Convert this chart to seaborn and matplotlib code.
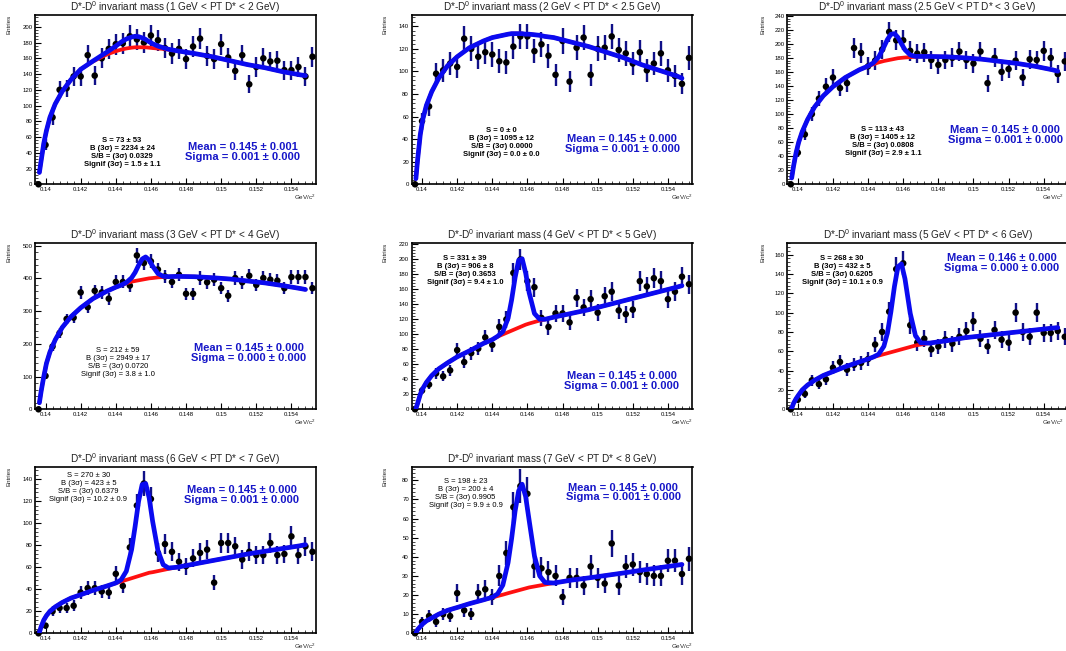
import numpy as np
import matplotlib
matplotlib.use("Agg")
import matplotlib.pyplot as plt
import seaborn as sns
from matplotlib.ticker import MultipleLocator, AutoMinorLocator, FuncFormatter

sns.set_theme(style="white")
plt.rcParams['font.family'] = ['Liberation Sans', 'DejaVu Sans']
plt.rcParams['mathtext.fontset'] = 'custom'
plt.rcParams['mathtext.rm'] = 'Liberation Sans'
plt.rcParams['mathtext.it'] = 'Liberation Sans:italic'
plt.rcParams['mathtext.bf'] = 'Liberation Sans:bold'

# ---------------- data ----------------
pt_ranges = ["1 GeV < PT D* < 2 GeV", "2 GeV < PT D* < 2.5 GeV", "2.5 GeV < PT D* < 3 GeV",
             "3 GeV < PT D* < 4 GeV", "4 GeV < PT D* < 5 GeV", "5 GeV < PT D* < 6 GeV",
             "6 GeV < PT D* < 7 GeV", "7 GeV < PT D* < 8 GeV"]

bin_lo, bin_hi, n_bins = 0.1394, 0.1554, 40
mass_edges = np.linspace(bin_lo, bin_hi, n_bins + 1)
mass_bins = 0.5 * (mass_edges[:-1] + mass_edges[1:])

counts_1 = [0, 50, 85, 120, 122, 137, 137, 164, 138, 160, 172, 178, 179, 188, 184, 180, 189, 183, 173, 166,
            172, 159, 175, 185, 163, 159, 178, 161, 144, 164, 127, 149, 160, 156, 157, 145, 145, 149, 137, 162]
counts_2 = [0, 56, 69, 98, 101, 107, 104, 129, 120, 113, 117, 115, 109, 108, 122, 131, 131, 118, 124, 114,
            97, 127, 91, 121, 130, 97, 120, 121, 131, 119, 116, 107, 117, 101, 107, 116, 101, 96, 89, 112]
counts_3 = [0, 45, 71, 100, 122, 139, 152, 137, 144, 194, 187, 168, 176, 192, 217, 205, 205, 190, 186, 188,
            177, 170, 177, 180, 189, 177, 172, 189, 144, 180, 160, 164, 176, 152, 178, 177, 190, 180, 157, 175]
counts_4 = [0, 102, 192, 233, 276, 280, 357, 312, 362, 357, 338, 389, 389, 378, 470, 447, 452, 427, 406, 389,
            411, 353, 353, 401, 388, 396, 370, 347, 401, 388, 408, 380, 401, 396, 393, 370, 404, 404, 404, 370]
counts_5 = [0, 25, 33, 48, 44, 52, 79, 63, 75, 81, 96, 86, 110, 120, 182, 200, 171, 163, 122, 110,
            128, 128, 116, 149, 136, 147, 129, 151, 157, 132, 127, 133, 171, 164, 175, 171, 147, 157, 177, 167]
counts_6 = [0, 10, 16, 30, 26, 31, 43, 49, 41, 46, 48, 52, 67, 80, 101, 145, 151, 87, 69, 73,
            62, 65, 72, 68, 75, 81, 91, 73, 65, 82, 72, 69, 100, 80, 75, 100, 79, 79, 81, 75]
counts_7 = [0, 7, 20, 23, 23, 25, 37, 41, 41, 38, 37, 54, 43, 78, 116, 136, 122, 73, 81, 74,
            65, 61, 68, 73, 76, 46, 82, 82, 79, 67, 74, 71, 71, 82, 71, 72, 88, 71, 79, 74]
counts_8 = [0, 6, 9, 6, 10, 9, 21, 12, 10, 21, 23, 19, 30, 42, 66, 77, 73, 35, 34, 32,
            30, 19, 29, 29, 25, 35, 29, 26, 47, 25, 35, 36, 32, 31, 30, 30, 38, 38, 31, 39]

curve_x = [0.13965, 0.13975, 0.13990, 0.14005, 0.14025, 0.14055, 0.14095, 0.14145, 0.14200, 0.14270,
           0.14350, 0.14400, 0.14430, 0.14460, 0.14490, 0.14510, 0.14530, 0.14550, 0.14570, 0.14590,
           0.14610, 0.14640, 0.14670, 0.14700, 0.14750, 0.14850, 0.14950, 0.15050, 0.15150, 0.15250,
           0.15350, 0.15450, 0.15480]

bkg_1 = [15, 30, 52, 68, 85, 102, 118, 133, 146, 156, 165, 169, 171, 172.5, 173.5, 174, 174, 174, 174, 173.5,
         173, 172.5, 172, 171, 169.5, 166, 162, 157, 152, 148, 143, 139, 138]
bkg_2 = [5, 22, 44, 58, 70, 82, 94, 105, 113, 121, 127, 130, 131, 132, 133, 133.5, 133.5, 133.5, 133.5, 133,
         133, 132.5, 132, 131, 130, 126, 122, 117, 112, 106, 101, 96, 94]
bkg_3 = [9, 25, 45, 60, 75, 92, 110, 126, 139, 152, 163, 168, 171, 173.5, 175.5, 176.5, 177.5, 178.5, 179.5, 180,
         180.5, 181, 181.5, 182, 182, 181.5, 180, 178, 175, 172, 168, 163, 161]
bkg_4 = [20, 55, 100, 140, 175, 212, 250, 283, 310, 338, 361, 373, 379, 385, 390, 392, 394, 396, 398, 400,
         401, 403, 404, 405, 406, 405, 402, 398, 392, 386, 378, 369, 366]
bkg_5 = [1, 8, 20, 28, 36, 45, 54, 62, 70, 78, 88, 93, 97, 100, 103, 105, 107, 109, 111, 113,
         114.5, 116.5, 118.5, 120, 123, 128, 133, 139, 145, 151, 157, 163, 165]
bkg_6 = [1, 6, 11, 15, 20, 25, 30, 35, 39, 44, 49, 52, 54, 55.5, 57, 58, 59, 60, 61, 62,
         63, 64.5, 66, 67, 68.5, 71, 74, 76, 78, 80, 82, 84, 84.5]
bkg_7 = [1, 6, 12, 16, 20, 24, 28, 32, 35, 39, 43, 45.5, 47, 48.5, 50, 51, 52, 53, 54, 55,
         55.5, 56.5, 57.5, 58.5, 60, 63, 66, 69, 72, 74.5, 77, 79.5, 80.5]
bkg_8 = [0, 2, 3.5, 5, 6.5, 8, 10, 12, 13.5, 15.5, 17.5, 18.7, 19.5, 20.2, 21, 21.5, 22, 22.5, 23, 23.5,
         24, 24.5, 25, 25.5, 26.3, 27.8, 29, 30.3, 31.6, 33, 34.3, 35.6, 36]

sig_1 = [0, 0, 0, 0, 0, 0, 0, 0, 0, 0.5, 3, 6.5, 9.5, 12, 13.5, 14, 13.5, 12, 10, 7.5,
         5.5, 3, 1.5, 0.5, 0, 0, 0, 0, 0, 0, 0, 0, 0]
sig_2 = [0] * 33
sig_3 = [0, 0, 0, 0, 0, 0, 0, 0, 0, 0, 0, 0.3, 1.9, 7.6, 20, 29.6, 36, 36, 29.6, 20,
         11, 3.1, 0.6, 0, 0, 0, 0, 0, 0, 0, 0, 0, 0]
sig_4 = [0, 0, 0, 0, 0, 0, 0, 0, 0, 0, 0, 0, 0.2, 2.2, 11.7, 26, 46, 63, 67.5, 56,
         36, 11.7, 2.2, 0.2, 0, 0, 0, 0, 0, 0, 0, 0, 0]
sig_5 = [0, 0, 0, 0, 0, 0, 0, 0, 0, 0, 0, 0, 0.4, 3.5, 18.6, 41, 69, 90, 90, 69,
         41, 11.4, 1.7, 0.15, 0, 0, 0, 0, 0, 0, 0, 0, 0]
sig_6 = [0, 0, 0, 0, 0, 0, 0, 0, 0, 0, 0, 0, 0.1, 1.4, 8.2, 20.8, 42, 67, 86.4, 88.4,
         72, 34.7, 10, 1.7, 0, 0, 0, 0, 0, 0, 0, 0, 0]
sig_7 = [0, 0, 0, 0, 0, 0, 0, 0, 0, 0, 0, 0.2, 1.5, 7.9, 26, 46, 68, 82, 82, 68,
         46, 18.5, 4.8, 0.8, 0, 0, 0, 0, 0, 0, 0, 0, 0]
sig_8 = [0, 0, 0, 0, 0, 0, 0, 0, 0, 0, 0, 0.15, 1.1, 5, 16, 28, 42, 52, 55, 48,
         35, 16, 5, 1.1, 0, 0, 0, 0, 0, 0, 0, 0, 0]

stats_1 = ["S = 73 ± 53", "B (3σ) = 2234 ± 24", "S/B = (3σ) 0.0329", "Signif (3σ) = 1.5 ± 1.1"]
stats_2 = ["S = 0 ± 0", "B (3σ) = 1095 ± 12", "S/B = (3σ) 0.0000", "Signif (3σ) = 0.0 ± 0.0"]
stats_3 = ["S = 113 ± 43", "B (3σ) = 1405 ± 12", "S/B = (3σ) 0.0808", "Signif (3σ) = 2.9 ± 1.1"]
stats_4 = ["S = 212 ± 59", "B (3σ) = 2949 ± 17", "S/B = (3σ) 0.0720", "Signif (3σ) = 3.8 ± 1.0"]
stats_5 = ["S = 331 ± 39", "B (3σ) = 906 ± 8", "S/B = (3σ) 0.3653", "Signif (3σ) = 9.4 ± 1.0"]
stats_6 = ["S = 268 ± 30", "B (3σ) = 432 ± 5", "S/B = (3σ) 0.6205", "Signif (3σ) = 10.1 ± 0.9"]
stats_7 = ["S = 270 ± 30", "B (3σ) = 423 ± 5", "S/B = (3σ) 0.6379", "Signif (3σ) = 10.2 ± 0.9"]
stats_8 = ["S = 198 ± 23", "B (3σ) = 200 ± 4", "S/B = (3σ) 0.9905", "Signif (3σ) = 9.9 ± 0.9"]

fit_1 = ["Mean = 0.145 ± 0.001", "Sigma = 0.001 ± 0.000"]
fit_2 = ["Mean = 0.145 ± 0.000", "Sigma = 0.001 ± 0.000"]
fit_3 = ["Mean = 0.145 ± 0.000", "Sigma = 0.001 ± 0.000"]
fit_4 = ["Mean = 0.145 ± 0.000", "Sigma = 0.000 ± 0.000"]
fit_5 = ["Mean = 0.145 ± 0.000", "Sigma = 0.001 ± 0.000"]
fit_6 = ["Mean = 0.146 ± 0.000", "Sigma = 0.000 ± 0.000"]
fit_7 = ["Mean = 0.145 ± 0.000", "Sigma = 0.001 ± 0.000"]
fit_8 = ["Mean = 0.145 ± 0.000", "Sigma = 0.001 ± 0.000"]

y_tops = [215, 150, 241, 508, 222, 172, 151, 87]
y_steps = [20, 20, 20, 100, 20, 20, 20, 10]

panels = [
    (counts_1, bkg_1, sig_1, stats_1, fit_1),
    (counts_2, bkg_2, sig_2, stats_2, fit_2),
    (counts_3, bkg_3, sig_3, stats_3, fit_3),
    (counts_4, bkg_4, sig_4, stats_4, fit_4),
    (counts_5, bkg_5, sig_5, stats_5, fit_5),
    (counts_6, bkg_6, sig_6, stats_6, fit_6),
    (counts_7, bkg_7, sig_7, stats_7, fit_7),
    (counts_8, bkg_8, sig_8, stats_8, fit_8),
]

# ---------------- layout (pixels) ----------------
W, H = 1066, 651
col_left = [35, 411.5, 787.3]
col_width = 281
row_top = [15, 243, 467]
row_bot = [184.3, 409.3, 633.3]

stats_pos = [(0.31, 0.187), (0.32, 0.245), (0.34, 0.255), (0.296, 0.284),
             (0.19, 0.833), (0.195, 0.835), (0.19, 0.878), (0.192, 0.84)]
stats_bold = [True, True, True, False, True, True, False, False]
fit_pos = [(0.74, 0.193), (0.75, 0.238), (0.775, 0.29), (0.76, 0.339),
           (0.748, 0.171), (0.764, 0.88), (0.735, 0.83), (0.753, 0.847)]
entries_x = [-0.093, -0.094, -0.085]
unit_x = [1.0, 1.0, 0.985]

fig = plt.figure(figsize=(W / 100, H / 100), dpi=100)
fig.patch.set_facecolor('white')

err_color = '#101088'
fit_blue = '#0a0af0'
text_blue = '#1616c8'

fmt_x = FuncFormatter(lambda v, p: f"{round(v, 4):g}")

for i, (counts, bkg, sig, stats, fit) in enumerate(panels):
    r, c = divmod(i, 3)
    left = col_left[c] / W
    bottom = (H - row_bot[r]) / H
    height = (row_bot[r] - row_top[r]) / H
    ax = fig.add_axes([left, bottom, col_width / W, height])
    ax.set_facecolor('white')

    counts = np.asarray(counts, dtype=float)
    yerr = np.sqrt(counts)
    ax.errorbar(mass_bins, counts, yerr=yerr, fmt='none', ecolor=err_color,
                elinewidth=1.7, capsize=0, zorder=2)
    sns.scatterplot(x=mass_bins, y=counts, color='black', s=22, edgecolor='none',
                    ax=ax, zorder=3, clip_on=False, legend=False)

    bkg_arr = np.asarray(bkg, dtype=float)
    total = bkg_arr + np.asarray(sig, dtype=float)
    sns.lineplot(x=curve_x, y=bkg_arr, color='#ff1010', linewidth=2.7, ax=ax,
                 sort=False, estimator=None, zorder=4)
    sns.lineplot(x=curve_x, y=total, color=fit_blue, linewidth=3.4, ax=ax,
                 sort=False, estimator=None, zorder=5)

    ax.set_xlim(bin_lo, bin_hi)
    ax.set_ylim(0, y_tops[i])
    ax.xaxis.set_major_locator(MultipleLocator(0.002))
    ax.xaxis.set_minor_locator(AutoMinorLocator(5))
    ax.xaxis.set_major_formatter(fmt_x)
    ax.yaxis.set_major_locator(MultipleLocator(y_steps[i]))
    ax.yaxis.set_minor_locator(AutoMinorLocator(5))
    ax.tick_params(axis='both', which='major', direction='in', length=4, width=0.8,
                   labelsize=4.3, pad=1.8, colors='black', bottom=True, left=True,
                   top=False, right=False)
    ax.tick_params(axis='both', which='minor', direction='in', length=2, width=0.6,
                   bottom=True, left=True, top=False, right=False)
    for sp in ax.spines.values():
        sp.set_visible(True)
        sp.set_color('black')
        sp.set_linewidth(1.2)
    ax.set_xlabel('')
    ax.set_ylabel('')
    ax.grid(False)

    ax.text(0.5, 1.0, "D*-D$^{0}$ invariant mass (" + pt_ranges[i] + ")",
            transform=ax.transAxes, ha='center', va='bottom', fontsize=7.2, color='#222222')
    ax.text(entries_x[c], 1.0, "Entries", transform=ax.transAxes, rotation=90,
            ha='center', va='top', fontsize=4.5, color='#222222')
    ax.text(unit_x[c], -0.05, "GeV/c$^{2}$", transform=ax.transAxes, ha='right', va='top',
            fontsize=4.5, color='#222222')

    sx, sy = stats_pos[i]
    ax.text(sx, sy, "\n".join(stats), transform=ax.transAxes, ha='center', va='center',
            fontsize=5.5, fontweight='bold' if stats_bold[i] else 'normal',
            linespacing=1.2, color='black', zorder=6)
    fx, fy = fit_pos[i]
    ax.text(fx, fy, "\n".join(fit), transform=ax.transAxes, ha='center', va='center',
            fontsize=8.0, fontweight='bold', linespacing=0.98, color=text_blue, zorder=6)

fig.savefig("out.png", dpi=100, facecolor='white')
